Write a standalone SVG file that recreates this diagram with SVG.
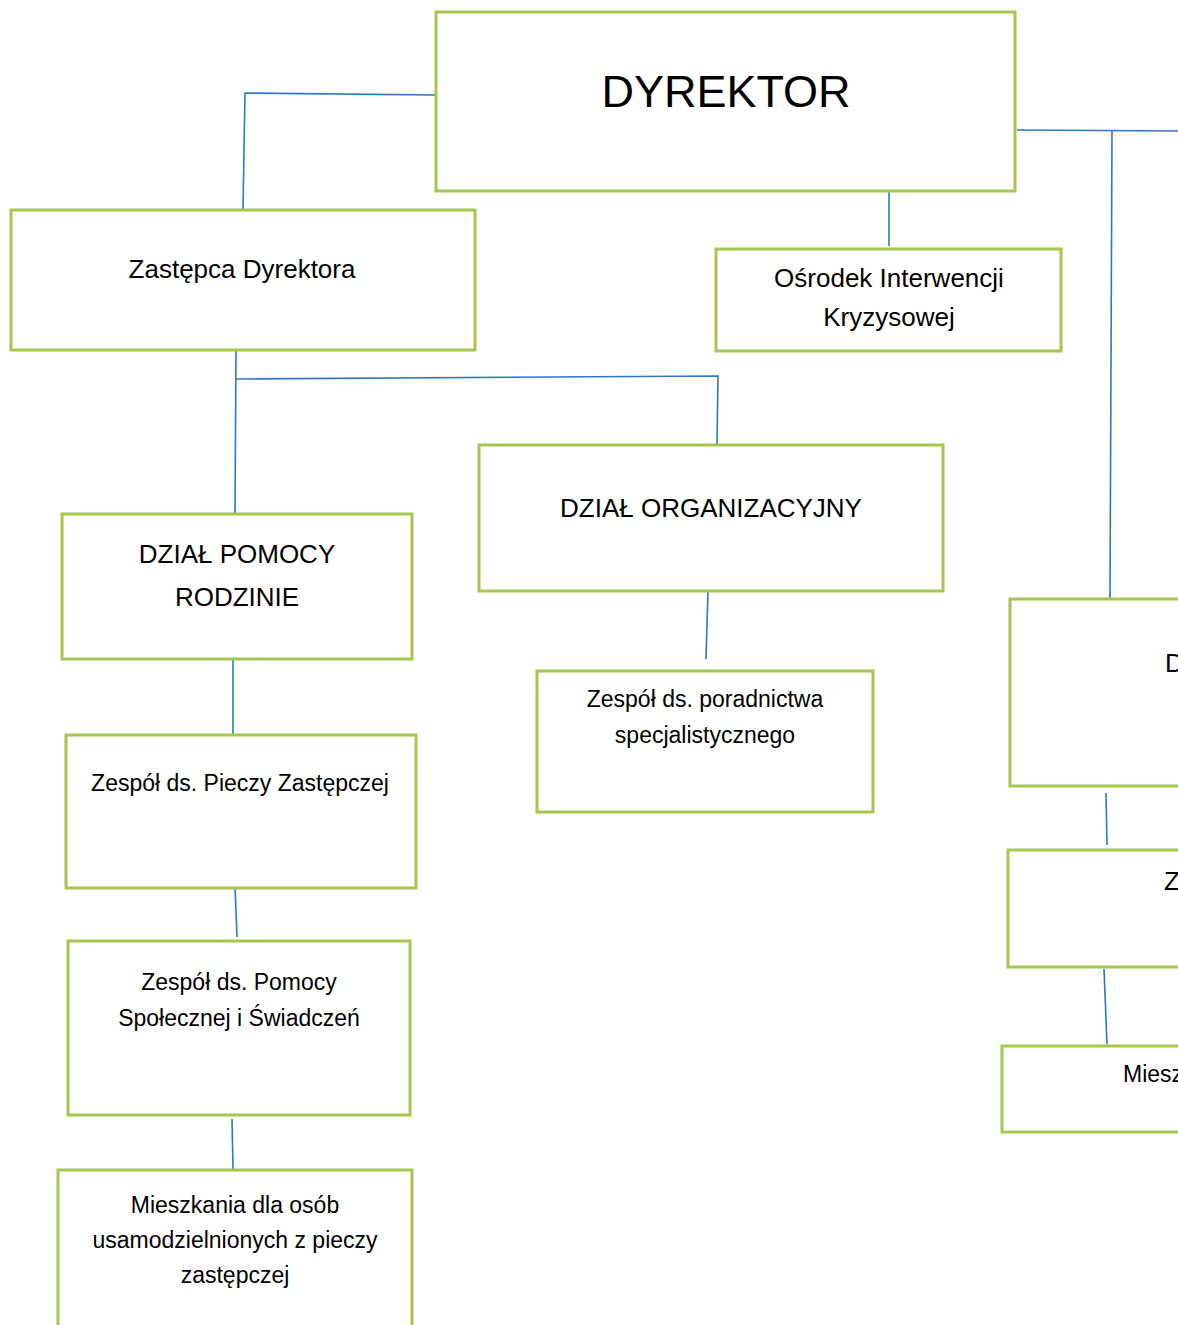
<svg xmlns="http://www.w3.org/2000/svg" width="1178" height="1325" viewBox="0 0 1178 1325">
<style>
.box{fill:#ffffff;stroke:#a6c64e;stroke-width:3}
.ln{fill:none;stroke:#2f75c5;stroke-width:1.6}
text{font-family:"Liberation Sans",Arial,sans-serif;fill:#000;text-anchor:middle}
.big{font-size:26px}
.sm{font-size:23px}
</style>
<rect width="1178" height="1325" fill="#ffffff"/>
<g id="connectors">
<path class="ln" d="M436,95 L245,93 L243,209"/>
<path class="ln" d="M889,189 L889,246"/>
<path class="ln" d="M1017,130 L1178,131"/>
<path class="ln" d="M1112,131 L1110,598"/>
<path class="ln" d="M236,350 L235,513"/>
<path class="ln" d="M236,379 L718,376 L717,444"/>
<path class="ln" d="M708,591 L706,659"/>
<path class="ln" d="M233,660 L233,735"/>
<path class="ln" d="M235,886 L237,937"/>
<path class="ln" d="M232,1119 L233,1169"/>
<path class="ln" d="M1106,793 L1107,845"/>
<path class="ln" d="M1104,969 L1107,1044"/>
</g>
<g id="dyrektor">
<rect class="box" x="436" y="12" width="579" height="179"/>
<text x="726" y="107" style="font-size:45px">DYREKTOR</text>
</g>
<g id="zastepca">
<rect class="box" x="11" y="210" width="464" height="140"/>
<text class="big" x="242" y="278">Zastępca Dyrektora</text>
</g>
<g id="osrodek">
<rect class="box" x="716" y="249" width="345" height="102"/>
<text class="big" x="889" y="287">Ośrodek Interwencji</text>
<text class="big" x="889" y="326">Kryzysowej</text>
</g>
<g id="dzial-org">
<rect class="box" x="479" y="445" width="464" height="146"/>
<text class="big" x="711" y="517">DZIAŁ ORGANIZACYJNY</text>
</g>
<g id="dzial-pomocy">
<rect class="box" x="62" y="514" width="350" height="145"/>
<text class="big" x="237" y="563">DZIAŁ POMOCY</text>
<text class="big" x="237" y="606">RODZINIE</text>
</g>
<g id="poradnictwo">
<rect class="box" x="537" y="671" width="336" height="141"/>
<text class="sm" x="705" y="707">Zespół ds. poradnictwa</text>
<text class="sm" x="705" y="743">specjalistycznego</text>
</g>
<g id="piecza">
<rect class="box" x="66" y="735" width="350" height="153"/>
<text class="sm" x="240" y="791">Zespół ds. Pieczy Zastępczej</text>
</g>
<g id="pomoc-spoleczna">
<rect class="box" x="68" y="941" width="342" height="174"/>
<text class="sm" x="239" y="990">Zespół ds. Pomocy</text>
<text class="sm" x="239" y="1026">Społecznej i Świadczeń</text>
</g>
<g id="mieszkania">
<rect class="box" x="58" y="1170" width="354" height="170"/>
<text class="sm" x="235" y="1213">Mieszkania dla osób</text>
<text class="sm" x="235" y="1248">usamodzielnionych z pieczy</text>
<text class="sm" x="235" y="1283">zastępczej</text>
</g>
<g id="right-dzial">
<rect class="box" x="1010" y="599" width="200" height="187"/>
<text class="big" x="1165" y="672" style="text-anchor:start">D</text>
</g>
<g id="right-zespol">
<rect class="box" x="1008" y="850" width="200" height="117"/>
<text class="big" x="1164" y="890" style="text-anchor:start">Z</text>
</g>
<g id="right-mieszkania">
<rect class="box" x="1002" y="1046" width="200" height="86"/>
<text class="sm" x="1123" y="1082" style="text-anchor:start">Mieszkania</text>
</g>
</svg>
